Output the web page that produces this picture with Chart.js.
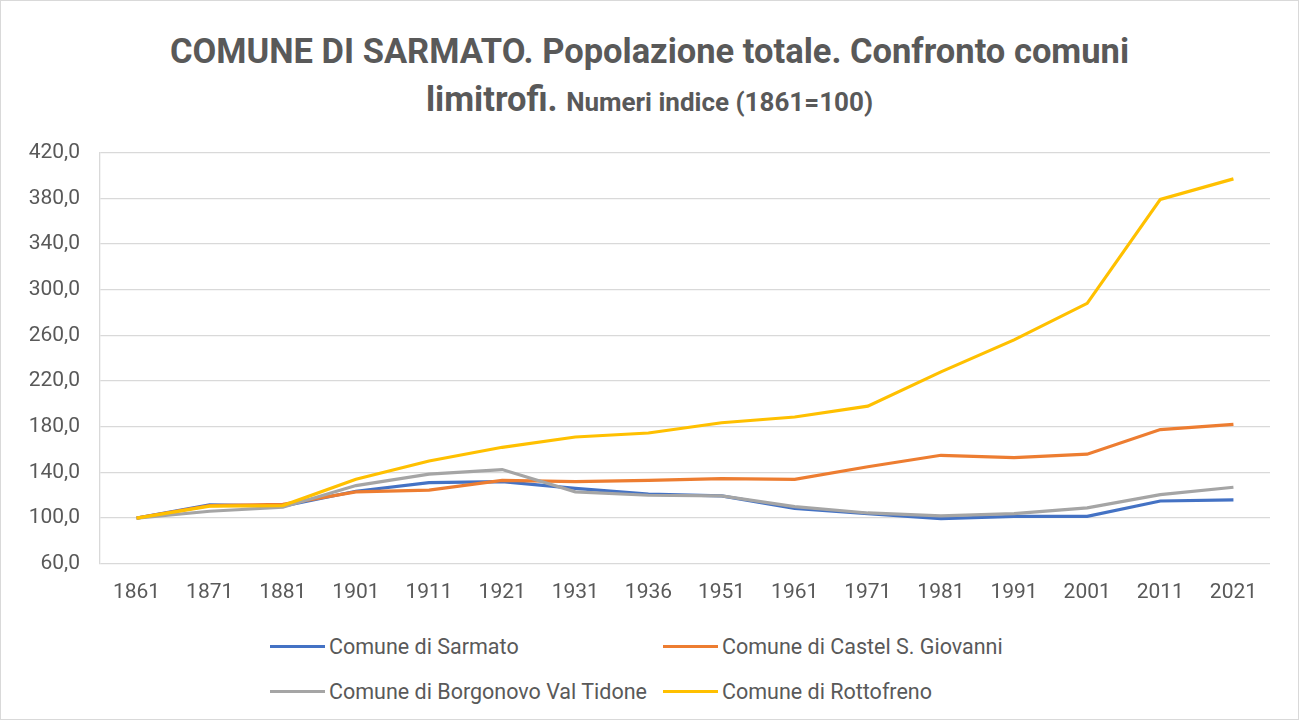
<!DOCTYPE html>
<html>
<head>
<meta charset="utf-8">
<script src="https://cdn.jsdelivr.net/npm/chart.js@4.4.1/dist/chart.umd.min.js"></script>
<style>
  html, body { margin: 0; padding: 0; background: #fff; }
  body { width: 1299px; height: 720px; position: relative; overflow: hidden;
         font-family: 'Roboto', sans-serif; color: #595959; }
  .frame { position: absolute; left: 0; top: 0; width: 1297px; height: 718px; border: 1px solid #d9d9d9; }
  .title { position: absolute; left: 0; width: 1299px; text-align: center; font-weight: bold; white-space: nowrap; }
  #t1 { top: 31px; font-size: 34.5px; }
  #t2 { top: 79px; font-size: 34.5px; }
  #t2 small { font-size: 26px; }
  #wrap { position: absolute; left: 0; top: 120px; width: 1299px; height: 493px; }
  .legend { position: absolute; top: 630px; left: 270px; display: grid;
            grid-template-columns: 393px 400px; row-gap: 13px; font-size: 21.5px; }
  .legend div { display: flex; align-items: center; height: 32px; }
  .legend i { display: inline-block; width: 55px; height: 3px; margin-right: 4px; }
</style>
</head>
<body>
<div class="frame"></div>
<div class="title" id="t1">COMUNE DI SARMATO. Popolazione totale. Confronto comuni</div>
<div class="title" id="t2">limitrofi. <small>Numeri indice (1861=100)</small></div>
<div id="wrap"><canvas id="chart"></canvas></div>
<div class="legend" id="legend"></div>
<script>
// Popolazione totale, numeri indice (1861=100)
const years = ['1861','1871','1881','1901','1911','1921','1931','1936','1951','1961','1971','1981','1991','2001','2011','2021'];
const sarmato    = [100, 111.5, 110.5, 123.5, 131, 132, 126, 121, 119.5, 108.5, 104, 99.5, 101.5, 101.5, 115, 116];
const castel     = [100, 111, 112, 123, 124.5, 133, 132, 133, 134.5, 134, 145, 155, 153, 156, 177.5, 182];
const borgonovo  = [100, 106, 109.5, 128.5, 138.5, 142.5, 123, 120, 119.5, 110, 104.5, 102, 104, 109, 120.5, 127];
const rottofreno = [100, 110.5, 111, 134, 150, 162, 171, 174.5, 183.5, 188.5, 198, 228, 256, 288, 379, 397];
const seriesNames = ['Comune di Sarmato', 'Comune di Castel S. Giovanni', 'Comune di Borgonovo Val Tidone', 'Comune di Rottofreno'];
const seriesColors = ['#4472C4', '#ED7D31', '#A5A5A5', '#FFC000'];
const yTicks = [60, 100, 140, 180, 220, 260, 300, 340, 380, 420];

const font = "'Roboto', sans-serif";
const allSeries = [sarmato, castel, borgonovo, rottofreno];

new Chart(document.getElementById('chart'), {
  type: 'line',
  data: {
    labels: years,
    datasets: allSeries.map((d, i) => ({
      label: seriesNames[i],
      data: d,
      borderColor: seriesColors[i],
      backgroundColor: seriesColors[i],
      borderWidth: 3.2,
      pointRadius: 0,
      tension: 0,
      order: 4 - i,   // later series on top, like Excel
    }))
  },
  options: {
    responsive: true,
    maintainAspectRatio: false,
    animation: false,
    layout: { padding: { top: 12, right: 29, left: 0, bottom: 0 } },
    scales: {
      x: {
        offset: true,
        grid: { display: false },
        border: { display: false },
        ticks: { color: '#595959', font: { family: font, size: 21 }, padding: 8, maxRotation: 0 }
      },
      y: {
        min: yTicks[0],
        max: yTicks[yTicks.length - 1],
        afterBuildTicks: s => { s.ticks = yTicks.map(v => ({ value: v })); },
        afterFit: s => { s.width = 100; },
        grid: { color: '#d9d9d9', lineWidth: 1.3, drawTicks: false },
        border: { display: true, color: '#d9d9d9', width: 1.3 },
        ticks: {
          color: '#595959', font: { family: font, size: 21 }, padding: 20,
          callback: v => v.toFixed(1).replace('.', ',')
        }
      }
    },
    plugins: {
      legend: { display: false },
      tooltip: { enabled: false }
    }
  }
});

// legenda a due colonne come nell'originale
const leg = document.getElementById('legend');
seriesNames.forEach((n, i) => {
  const el = document.createElement('div');
  el.innerHTML = '<i style="background:' + seriesColors[i] + '"></i>' + n;
  leg.appendChild(el);
});
</script>
</body>
</html>
